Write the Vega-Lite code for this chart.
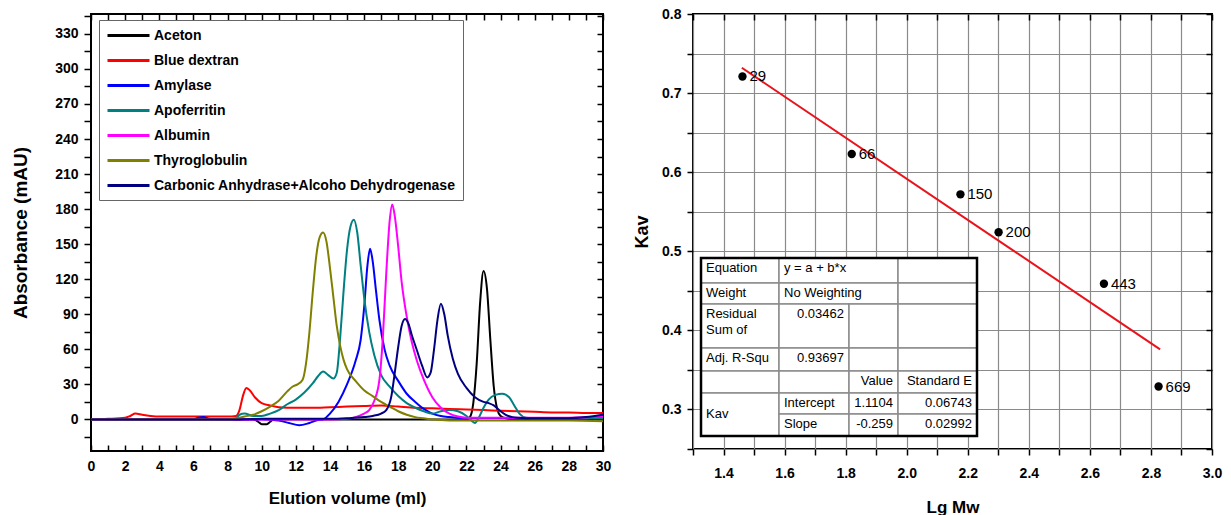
{
  "$schema": "https://vega.github.io/schema/vega-lite/v6.json",
  "background": "white",
  "padding": {"left": 10, "top": 6, "right": 5, "bottom": 5},
  "bounds": "flush",
  "spacing": 90,
  "config": {
    "font": "Liberation Sans",
    "view": {"stroke": "black", "strokeWidth": 2},
    "axis": {
      "labelFlush": false, "labelOverlap": false, "grid": false, "domain": false,
      "tickColor": "black", "tickWidth": 1.5,
      "labelFont": "Liberation Sans", "labelFontSize": 14, "labelFontWeight": "bold", "labelColor": "black",
      "titleFont": "Liberation Sans", "titleFontWeight": "bold", "titleColor": "black"
    },
    "text": {"font": "Liberation Sans", "color": "black"}
  },
  "datasets": {
    "curves": [
      {"s":"Aceton","v":0,"a":0},{"s":"Aceton","v":2,"a":0},{"s":"Aceton","v":4,"a":0},{"s":"Aceton","v":6,"a":0},{"s":"Aceton","v":8,"a":0},{"s":"Aceton","v":9.5,"a":0},{"s":"Aceton","v":9.8,"a":-2},{"s":"Aceton","v":10.0,"a":-4},{"s":"Aceton","v":10.3,"a":-4},{"s":"Aceton","v":10.5,"a":-2},{"s":"Aceton","v":10.7,"a":0},{"s":"Aceton","v":12,"a":0},{"s":"Aceton","v":14,"a":0},{"s":"Aceton","v":16,"a":0},{"s":"Aceton","v":18,"a":0},{"s":"Aceton","v":20,"a":0},{"s":"Aceton","v":22,"a":0},{"s":"Aceton","v":22.2,"a":2},{"s":"Aceton","v":22.4,"a":14},{"s":"Aceton","v":22.6,"a":48},{"s":"Aceton","v":22.8,"a":100},{"s":"Aceton","v":23.0,"a":127},{"s":"Aceton","v":23.2,"a":112},{"s":"Aceton","v":23.4,"a":68},{"s":"Aceton","v":23.6,"a":28},{"s":"Aceton","v":23.8,"a":9},{"s":"Aceton","v":24.0,"a":3},{"s":"Aceton","v":24.3,"a":1},{"s":"Aceton","v":25,"a":0},{"s":"Aceton","v":26,"a":0},{"s":"Aceton","v":28,"a":0},{"s":"Aceton","v":30,"a":0},

      {"s":"Blue dextran","v":0,"a":0},{"s":"Blue dextran","v":1,"a":0.5},{"s":"Blue dextran","v":2,"a":1.5},{"s":"Blue dextran","v":2.3,"a":3},{"s":"Blue dextran","v":2.6,"a":5},{"s":"Blue dextran","v":3.0,"a":4},{"s":"Blue dextran","v":3.5,"a":3},{"s":"Blue dextran","v":4,"a":2.5},{"s":"Blue dextran","v":6,"a":2.5},{"s":"Blue dextran","v":8,"a":2.5},{"s":"Blue dextran","v":8.5,"a":3},{"s":"Blue dextran","v":8.7,"a":8},{"s":"Blue dextran","v":8.9,"a":20},{"s":"Blue dextran","v":9.1,"a":27},{"s":"Blue dextran","v":9.3,"a":25},{"s":"Blue dextran","v":9.6,"a":19},{"s":"Blue dextran","v":10,"a":14},{"s":"Blue dextran","v":10.5,"a":12},{"s":"Blue dextran","v":11,"a":10.5},{"s":"Blue dextran","v":12,"a":10},{"s":"Blue dextran","v":13,"a":10},{"s":"Blue dextran","v":14,"a":10.5},{"s":"Blue dextran","v":15,"a":11},{"s":"Blue dextran","v":16,"a":11.5},{"s":"Blue dextran","v":17,"a":12},{"s":"Blue dextran","v":18,"a":11},{"s":"Blue dextran","v":19,"a":10},{"s":"Blue dextran","v":20,"a":9.5},{"s":"Blue dextran","v":21,"a":9},{"s":"Blue dextran","v":22,"a":8.5},{"s":"Blue dextran","v":23,"a":8},{"s":"Blue dextran","v":24,"a":7.5},{"s":"Blue dextran","v":25,"a":7},{"s":"Blue dextran","v":26,"a":6.5},{"s":"Blue dextran","v":27,"a":6},{"s":"Blue dextran","v":28,"a":6},{"s":"Blue dextran","v":29,"a":5.5},{"s":"Blue dextran","v":30,"a":5.5},

      {"s":"Amylase","v":0,"a":0},{"s":"Amylase","v":6,"a":0},{"s":"Amylase","v":6.3,"a":1.5},{"s":"Amylase","v":6.6,"a":2},{"s":"Amylase","v":6.9,"a":0.5},{"s":"Amylase","v":7.5,"a":0},{"s":"Amylase","v":10,"a":0},{"s":"Amylase","v":11,"a":-1},{"s":"Amylase","v":11.6,"a":-3},{"s":"Amylase","v":12.2,"a":-5},{"s":"Amylase","v":12.8,"a":-3},{"s":"Amylase","v":13.3,"a":-0.5},{"s":"Amylase","v":13.6,"a":0},{"s":"Amylase","v":14,"a":5},{"s":"Amylase","v":14.5,"a":15},{"s":"Amylase","v":15,"a":30},{"s":"Amylase","v":15.5,"a":50},{"s":"Amylase","v":15.8,"a":68},{"s":"Amylase","v":16.0,"a":95},{"s":"Amylase","v":16.2,"a":132},{"s":"Amylase","v":16.35,"a":146},{"s":"Amylase","v":16.5,"a":136},{"s":"Amylase","v":16.7,"a":110},{"s":"Amylase","v":16.9,"a":85},{"s":"Amylase","v":17.2,"a":60},{"s":"Amylase","v":17.5,"a":46},{"s":"Amylase","v":18,"a":33},{"s":"Amylase","v":18.5,"a":22},{"s":"Amylase","v":19,"a":15},{"s":"Amylase","v":19.5,"a":9},{"s":"Amylase","v":20,"a":5},{"s":"Amylase","v":20.5,"a":3},{"s":"Amylase","v":21,"a":2},{"s":"Amylase","v":22,"a":1},{"s":"Amylase","v":24,"a":1},{"s":"Amylase","v":26,"a":1},{"s":"Amylase","v":28,"a":0.5},{"s":"Amylase","v":30,"a":1},

      {"s":"Apoferritin","v":0,"a":0},{"s":"Apoferritin","v":8,"a":0},{"s":"Apoferritin","v":8.5,"a":1},{"s":"Apoferritin","v":8.7,"a":4},{"s":"Apoferritin","v":9,"a":5},{"s":"Apoferritin","v":9.5,"a":3},{"s":"Apoferritin","v":10,"a":3},{"s":"Apoferritin","v":10.5,"a":5},{"s":"Apoferritin","v":11,"a":8},{"s":"Apoferritin","v":11.5,"a":13},{"s":"Apoferritin","v":12,"a":17},{"s":"Apoferritin","v":12.5,"a":23},{"s":"Apoferritin","v":13,"a":31},{"s":"Apoferritin","v":13.3,"a":37},{"s":"Apoferritin","v":13.6,"a":41},{"s":"Apoferritin","v":13.9,"a":38},{"s":"Apoferritin","v":14.2,"a":35},{"s":"Apoferritin","v":14.4,"a":40},{"s":"Apoferritin","v":14.6,"a":70},{"s":"Apoferritin","v":14.8,"a":110},{"s":"Apoferritin","v":15.0,"a":145},{"s":"Apoferritin","v":15.2,"a":165},{"s":"Apoferritin","v":15.4,"a":171},{"s":"Apoferritin","v":15.6,"a":160},{"s":"Apoferritin","v":15.8,"a":132},{"s":"Apoferritin","v":16.0,"a":105},{"s":"Apoferritin","v":16.3,"a":75},{"s":"Apoferritin","v":16.6,"a":55},{"s":"Apoferritin","v":17.0,"a":38},{"s":"Apoferritin","v":17.5,"a":28},{"s":"Apoferritin","v":18,"a":20},{"s":"Apoferritin","v":18.5,"a":14},{"s":"Apoferritin","v":19,"a":10},{"s":"Apoferritin","v":19.5,"a":7},{"s":"Apoferritin","v":20,"a":5},{"s":"Apoferritin","v":20.5,"a":7},{"s":"Apoferritin","v":21,"a":8},{"s":"Apoferritin","v":21.5,"a":7},{"s":"Apoferritin","v":22,"a":3},{"s":"Apoferritin","v":22.3,"a":-1},{"s":"Apoferritin","v":22.5,"a":-3},{"s":"Apoferritin","v":22.7,"a":1},{"s":"Apoferritin","v":23,"a":10},{"s":"Apoferritin","v":23.3,"a":17},{"s":"Apoferritin","v":23.7,"a":21},{"s":"Apoferritin","v":24.1,"a":22},{"s":"Apoferritin","v":24.5,"a":19},{"s":"Apoferritin","v":24.8,"a":12},{"s":"Apoferritin","v":25.1,"a":5},{"s":"Apoferritin","v":25.5,"a":1.5},{"s":"Apoferritin","v":26,"a":1},{"s":"Apoferritin","v":28,"a":1},{"s":"Apoferritin","v":30,"a":1},

      {"s":"Albumin","v":0,"a":0},{"s":"Albumin","v":10,"a":0},{"s":"Albumin","v":14,"a":0},{"s":"Albumin","v":15,"a":0.5},{"s":"Albumin","v":15.5,"a":2},{"s":"Albumin","v":16,"a":5},{"s":"Albumin","v":16.3,"a":8},{"s":"Albumin","v":16.6,"a":16},{"s":"Albumin","v":16.9,"a":34},{"s":"Albumin","v":17.1,"a":70},{"s":"Albumin","v":17.3,"a":125},{"s":"Albumin","v":17.5,"a":170},{"s":"Albumin","v":17.65,"a":184},{"s":"Albumin","v":17.8,"a":174},{"s":"Albumin","v":18.0,"a":148},{"s":"Albumin","v":18.2,"a":118},{"s":"Albumin","v":18.5,"a":88},{"s":"Albumin","v":18.8,"a":66},{"s":"Albumin","v":19.1,"a":50},{"s":"Albumin","v":19.5,"a":34},{"s":"Albumin","v":20,"a":19},{"s":"Albumin","v":20.5,"a":10},{"s":"Albumin","v":21,"a":5},{"s":"Albumin","v":21.5,"a":2.5},{"s":"Albumin","v":22,"a":1.5},{"s":"Albumin","v":24,"a":1.5},{"s":"Albumin","v":26,"a":1.5},{"s":"Albumin","v":28,"a":1.5},{"s":"Albumin","v":30,"a":2.5},

      {"s":"Thyroglobulin","v":0,"a":0},{"s":"Thyroglobulin","v":8,"a":0},{"s":"Thyroglobulin","v":8.6,"a":1},{"s":"Thyroglobulin","v":9,"a":2.5},{"s":"Thyroglobulin","v":9.5,"a":4},{"s":"Thyroglobulin","v":10,"a":7},{"s":"Thyroglobulin","v":10.5,"a":11},{"s":"Thyroglobulin","v":11,"a":16},{"s":"Thyroglobulin","v":11.5,"a":24},{"s":"Thyroglobulin","v":11.8,"a":28},{"s":"Thyroglobulin","v":12.1,"a":30},{"s":"Thyroglobulin","v":12.4,"a":34},{"s":"Thyroglobulin","v":12.6,"a":48},{"s":"Thyroglobulin","v":12.8,"a":75},{"s":"Thyroglobulin","v":13.0,"a":110},{"s":"Thyroglobulin","v":13.2,"a":140},{"s":"Thyroglobulin","v":13.4,"a":156},{"s":"Thyroglobulin","v":13.6,"a":160},{"s":"Thyroglobulin","v":13.8,"a":152},{"s":"Thyroglobulin","v":14.0,"a":130},{"s":"Thyroglobulin","v":14.2,"a":105},{"s":"Thyroglobulin","v":14.4,"a":80},{"s":"Thyroglobulin","v":14.6,"a":63},{"s":"Thyroglobulin","v":14.8,"a":51},{"s":"Thyroglobulin","v":15.0,"a":43},{"s":"Thyroglobulin","v":15.5,"a":33},{"s":"Thyroglobulin","v":16,"a":25},{"s":"Thyroglobulin","v":16.5,"a":20},{"s":"Thyroglobulin","v":17,"a":15},{"s":"Thyroglobulin","v":17.5,"a":11},{"s":"Thyroglobulin","v":18,"a":7},{"s":"Thyroglobulin","v":18.5,"a":4},{"s":"Thyroglobulin","v":19,"a":2},{"s":"Thyroglobulin","v":19.5,"a":1},{"s":"Thyroglobulin","v":20,"a":0},{"s":"Thyroglobulin","v":22,"a":-1},{"s":"Thyroglobulin","v":25,"a":-1},{"s":"Thyroglobulin","v":28,"a":-1},{"s":"Thyroglobulin","v":30,"a":-1.5},

      {"s":"Carbonic Anhydrase+Alcoho Dehydrogenase","v":0,"a":0},{"s":"Carbonic Anhydrase+Alcoho Dehydrogenase","v":8,"a":0},{"s":"Carbonic Anhydrase+Alcoho Dehydrogenase","v":10,"a":0.5},{"s":"Carbonic Anhydrase+Alcoho Dehydrogenase","v":12,"a":0.5},{"s":"Carbonic Anhydrase+Alcoho Dehydrogenase","v":14,"a":0.5},{"s":"Carbonic Anhydrase+Alcoho Dehydrogenase","v":15,"a":1},{"s":"Carbonic Anhydrase+Alcoho Dehydrogenase","v":16,"a":2},{"s":"Carbonic Anhydrase+Alcoho Dehydrogenase","v":16.5,"a":3},{"s":"Carbonic Anhydrase+Alcoho Dehydrogenase","v":17,"a":5},{"s":"Carbonic Anhydrase+Alcoho Dehydrogenase","v":17.3,"a":8},{"s":"Carbonic Anhydrase+Alcoho Dehydrogenase","v":17.6,"a":20},{"s":"Carbonic Anhydrase+Alcoho Dehydrogenase","v":17.8,"a":40},{"s":"Carbonic Anhydrase+Alcoho Dehydrogenase","v":18.0,"a":62},{"s":"Carbonic Anhydrase+Alcoho Dehydrogenase","v":18.2,"a":80},{"s":"Carbonic Anhydrase+Alcoho Dehydrogenase","v":18.4,"a":86},{"s":"Carbonic Anhydrase+Alcoho Dehydrogenase","v":18.6,"a":82},{"s":"Carbonic Anhydrase+Alcoho Dehydrogenase","v":18.8,"a":72},{"s":"Carbonic Anhydrase+Alcoho Dehydrogenase","v":19.1,"a":59},{"s":"Carbonic Anhydrase+Alcoho Dehydrogenase","v":19.4,"a":46},{"s":"Carbonic Anhydrase+Alcoho Dehydrogenase","v":19.7,"a":36},{"s":"Carbonic Anhydrase+Alcoho Dehydrogenase","v":19.9,"a":40},{"s":"Carbonic Anhydrase+Alcoho Dehydrogenase","v":20.1,"a":60},{"s":"Carbonic Anhydrase+Alcoho Dehydrogenase","v":20.3,"a":85},{"s":"Carbonic Anhydrase+Alcoho Dehydrogenase","v":20.5,"a":99},{"s":"Carbonic Anhydrase+Alcoho Dehydrogenase","v":20.7,"a":90},{"s":"Carbonic Anhydrase+Alcoho Dehydrogenase","v":20.9,"a":72},{"s":"Carbonic Anhydrase+Alcoho Dehydrogenase","v":21.2,"a":52},{"s":"Carbonic Anhydrase+Alcoho Dehydrogenase","v":21.5,"a":39},{"s":"Carbonic Anhydrase+Alcoho Dehydrogenase","v":22,"a":27},{"s":"Carbonic Anhydrase+Alcoho Dehydrogenase","v":22.5,"a":19},{"s":"Carbonic Anhydrase+Alcoho Dehydrogenase","v":23,"a":15},{"s":"Carbonic Anhydrase+Alcoho Dehydrogenase","v":23.3,"a":14},{"s":"Carbonic Anhydrase+Alcoho Dehydrogenase","v":23.6,"a":12},{"s":"Carbonic Anhydrase+Alcoho Dehydrogenase","v":24,"a":7},{"s":"Carbonic Anhydrase+Alcoho Dehydrogenase","v":24.3,"a":4},{"s":"Carbonic Anhydrase+Alcoho Dehydrogenase","v":24.7,"a":2},{"s":"Carbonic Anhydrase+Alcoho Dehydrogenase","v":25,"a":1.5},{"s":"Carbonic Anhydrase+Alcoho Dehydrogenase","v":26,"a":1},{"s":"Carbonic Anhydrase+Alcoho Dehydrogenase","v":27,"a":1},{"s":"Carbonic Anhydrase+Alcoho Dehydrogenase","v":28,"a":1},{"s":"Carbonic Anhydrase+Alcoho Dehydrogenase","v":29,"a":2},{"s":"Carbonic Anhydrase+Alcoho Dehydrogenase","v":30,"a":4}
    ],
    "points": [
      {"mw":"29","lg":1.462,"kav":0.721},
      {"mw":"66","lg":1.820,"kav":0.623},
      {"mw":"150","lg":2.176,"kav":0.572},
      {"mw":"200","lg":2.301,"kav":0.524},
      {"mw":"443","lg":2.646,"kav":0.459},
      {"mw":"669","lg":2.825,"kav":0.329}
    ],
    "fit": [
      {"lg":1.46,"kav":0.732},
      {"lg":2.83,"kav":0.376}
    ],
    "cells": [
      {"r0":0,"r1":1,"c0":0,"c1":1,"t":"Equation","kind":"label"},
      {"r0":0,"r1":1,"c0":1,"c1":3,"t":"y = a + b*x","kind":"label"},
      {"r0":0,"r1":1,"c0":3,"c1":4,"t":"","kind":"label"},
      {"r0":1,"r1":2,"c0":0,"c1":1,"t":"Weight","kind":"label"},
      {"r0":1,"r1":2,"c0":1,"c1":3,"t":"No Weighting","kind":"label"},
      {"r0":1,"r1":2,"c0":3,"c1":4,"t":"","kind":"label"},
      {"r0":2,"r1":3,"c0":0,"c1":1,"t":"Residual\nSum of","kind":"label"},
      {"r0":2,"r1":3,"c0":1,"c1":2,"t":"0.03462","kind":"number"},
      {"r0":2,"r1":3,"c0":2,"c1":3,"t":"","kind":"label"},
      {"r0":2,"r1":3,"c0":3,"c1":4,"t":"","kind":"label"},
      {"r0":3,"r1":4,"c0":0,"c1":1,"t":"Adj. R-Squ","kind":"label"},
      {"r0":3,"r1":4,"c0":1,"c1":2,"t":"0.93697","kind":"number"},
      {"r0":3,"r1":4,"c0":2,"c1":3,"t":"","kind":"label"},
      {"r0":3,"r1":4,"c0":3,"c1":4,"t":"","kind":"label"},
      {"r0":4,"r1":5,"c0":0,"c1":1,"t":"","kind":"label"},
      {"r0":4,"r1":5,"c0":1,"c1":2,"t":"","kind":"label"},
      {"r0":4,"r1":5,"c0":2,"c1":3,"t":"Value","kind":"header"},
      {"r0":4,"r1":5,"c0":3,"c1":4,"t":"Standard E","kind":"header"},
      {"r0":5,"r1":7,"c0":0,"c1":1,"t":"Kav","kind":"label"},
      {"r0":5,"r1":6,"c0":1,"c1":2,"t":"Intercept","kind":"label"},
      {"r0":5,"r1":6,"c0":2,"c1":3,"t":"1.1104","kind":"number"},
      {"r0":5,"r1":6,"c0":3,"c1":4,"t":"0.06743","kind":"number"},
      {"r0":6,"r1":7,"c0":1,"c1":2,"t":"Slope","kind":"label"},
      {"r0":6,"r1":7,"c0":2,"c1":3,"t":"-0.259","kind":"number"},
      {"r0":6,"r1":7,"c0":3,"c1":4,"t":"0.02992","kind":"number"}
    ],
    "tableframe": [{"r0":0,"r1":7,"c0":0,"c1":4}]
  },
  "hconcat": [
    {
      "width": 512,
      "height": 437,
      "layer": [
        {
          "data": {"name": "curves"},
          "mark": {"type": "line", "strokeWidth": 2, "interpolate": "monotone"},
          "encoding": {
            "x": {"field": "v", "type": "quantitative",
              "scale": {"domain": [0, 30], "nice": false, "zero": false},
              "axis": {"title": "Elution volume (ml)", "titleFontSize": 17, "titlePadding": 17,
                "values": [0,1,2,3,4,5,6,7,8,9,10,11,12,13,14,15,16,17,18,19,20,21,22,23,24,25,26,27,28,29,30],
                "labelExpr": "datum.value % 2 === 0 ? datum.label : ''",
                "tickSize": -6, "labelPadding": 14}},
            "y": {"field": "a", "type": "quantitative",
              "scale": {"domain": [-27, 347], "nice": false, "zero": false},
              "axis": {"title": "Absorbance (mAU)", "titleFontSize": 19, "titlePadding": 24,
                "values": [-15,0,15,30,45,60,75,90,105,120,135,150,165,180,195,210,225,240,255,270,285,300,315,330,345],
                "labelExpr": "datum.value % 30 === 0 ? datum.label : ''",
                "tickSize": 7, "labelPadding": 6}},
            "color": {"field": "s", "type": "nominal",
              "sort": ["Aceton","Blue dextran","Amylase","Apoferritin","Albumin","Thyroglobulin","Carbonic Anhydrase+Alcoho Dehydrogenase"],
              "scale": {"domain": ["Aceton","Blue dextran","Amylase","Apoferritin","Albumin","Thyroglobulin","Carbonic Anhydrase+Alcoho Dehydrogenase"],
                "range": ["#000000","#ff0000","#0000ff","#008080","#ff00ff","#808000","#000080"]},
              "legend": {"title": null, "orient": "none", "legendX": 8, "legendY": 6,
                "symbolType": "M-3,0H3", "symbolSize": 196, "symbolStrokeWidth": 3, "symbolOffset": 14,
                "labelFont": "Liberation Sans", "labelFontSize": 14, "labelFontWeight": "bold", "labelColor": "black",
                "labelLimit": 500, "labelOffset": 17, "strokeColor": "#666666", "fillColor": "white",
                "padding": 7, "rowPadding": 9}}
          }
        },
        {
          "data": {"values": [{"k": 1}]},
          "mark": {"type": "point", "opacity": 0},
          "encoding": {
            "x": {"datum": 0, "type": "quantitative",
              "scale": {"domain": [0, 30], "nice": false, "zero": false},
              "axis": {"orient": "top", "labels": false, "title": null, "tickSize": -6,
                "values": [0,1,2,3,4,5,6,7,8,9,10,11,12,13,14,15,16,17,18,19,20,21,22,23,24,25,26,27,28,29,30]}},
            "y": {"datum": 0, "type": "quantitative",
              "scale": {"domain": [-27, 347], "nice": false, "zero": false},
              "axis": {"orient": "right", "labels": false, "title": null, "tickSize": -6,
                "values": [-15,0,15,30,45,60,75,90,105,120,135,150,165,180,195,210,225,240,255,270,285,300,315,330,345]}}
          }
        }
      ],
      "resolve": {"axis": {"x": "independent", "y": "independent"}}
    },
    {
      "width": 519,
      "height": 435,
      "layer": [
        {
          "layer": [
            {
              "data": {"name": "points"},
              "mark": {"type": "circle", "color": "black", "size": 70, "opacity": 1},
              "encoding": {
                "x": {"field": "lg", "type": "quantitative",
                  "scale": {"domain": [1.3, 3.0], "nice": false, "zero": false},
                  "axis": {"title": "Lg Mw", "titleFontSize": 17, "titlePadding": 19,
                    "values": [1.3,1.4,1.5,1.6,1.7,1.8,1.9,2.0,2.1,2.2,2.3,2.4,2.5,2.6,2.7,2.8,2.9,3.0],
                    "format": ".1f",
                    "labelExpr": "round(datum.value * 10) % 2 === 0 ? datum.label : ''",
                    "grid": true, "gridColor": "#8a8a8a", "gridWidth": 1.2,
                    "tickSize": 6, "labelPadding": 11}},
                "y": {"field": "kav", "type": "quantitative",
                  "scale": {"domain": [0.25, 0.8], "nice": false, "zero": false},
                  "axis": {"title": "Kav", "titleFontSize": 18, "titlePadding": 10,
                    "values": [0.25,0.3,0.35,0.4,0.45,0.5,0.55,0.6,0.65,0.7,0.75,0.8],
                    "format": ".1f",
                    "labelExpr": "round(datum.value * 100) % 10 === 0 ? datum.label : ''",
                    "grid": true, "gridColor": "#8a8a8a", "gridWidth": 1.2,
                    "tickSize": 6, "labelPadding": 6}}
              }
            },
            {
              "data": {"values": [{"k": 1}]},
              "mark": {"type": "point", "opacity": 0},
              "encoding": {
                "x": {"datum": 2, "type": "quantitative",
                  "scale": {"domain": [1.3, 3.0], "nice": false, "zero": false},
                  "axis": {"orient": "top", "labels": false, "title": null, "tickSize": -6,
                    "values": [1.3,1.4,1.5,1.6,1.7,1.8,1.9,2.0,2.1,2.2,2.3,2.4,2.5,2.6,2.7,2.8,2.9,3.0]}},
                "y": {"datum": 0.5, "type": "quantitative",
                  "scale": {"domain": [0.25, 0.8], "nice": false, "zero": false},
                  "axis": {"orient": "right", "labels": false, "title": null, "tickSize": -6,
                    "values": [0.25,0.3,0.35,0.4,0.45,0.5,0.55,0.6,0.65,0.7,0.75,0.8]}}
              }
            },
            {
              "data": {"name": "fit"},
              "mark": {"type": "line", "color": "#e8131b", "strokeWidth": 2},
              "encoding": {
                "x": {"field": "lg", "type": "quantitative", "axis": null},
                "y": {"field": "kav", "type": "quantitative", "axis": null}
              }
            },
            {
              "data": {"name": "points"},
              "mark": {"type": "text", "align": "left", "baseline": "middle", "dx": 7, "fontSize": 15},
              "encoding": {
                "x": {"field": "lg", "type": "quantitative", "axis": null},
                "y": {"field": "kav", "type": "quantitative", "axis": null},
                "text": {"field": "mw"}
              }
            }
          ],
          "resolve": {"axis": {"x": "independent", "y": "independent"}}
        },
        {
          "layer": [
            {
              "data": {"name": "cells"},
              "mark": {"type": "rect", "color": "white", "stroke": "#8c8c8c", "strokeWidth": 1.5},
              "encoding": {
                "x": {"field": "c0", "type": "quantitative", "axis": null,
                  "scale": {"domain": [0,1,2,3,4], "range": [8,86,156,205,284], "nice": false, "zero": false}},
                "x2": {"field": "c1"},
                "y": {"field": "r0", "type": "quantitative", "axis": null,
                  "scale": {"domain": [0,1,2,3,4,5,6,7], "range": [244,269,290,334,357,379,400,422], "nice": false, "zero": false}},
                "y2": {"field": "r1"}
              }
            },
            {
              "data": {"name": "tableframe"},
              "mark": {"type": "rect", "filled": false, "color": "black", "strokeWidth": 2.5},
              "encoding": {
                "x": {"field": "c0", "type": "quantitative", "axis": null},
                "x2": {"field": "c1"},
                "y": {"field": "r0", "type": "quantitative", "axis": null},
                "y2": {"field": "r1"}
              }
            },
            {
              "data": {"name": "cells"},
              "transform": [{"filter": "datum.kind === 'label' && datum.r1 - datum.r0 === 1"}],
              "mark": {"type": "text", "align": "left", "baseline": "top", "dx": 5, "dy": 4, "fontSize": 13, "lineBreak": "\n", "lineHeight": 16},
              "encoding": {
                "x": {"field": "c0", "type": "quantitative", "axis": null},
                "y": {"field": "r0", "type": "quantitative", "axis": null},
                "text": {"field": "t"}
              }
            },
            {
              "data": {"name": "cells"},
              "transform": [{"filter": "datum.kind !== 'label'"}],
              "mark": {"type": "text", "align": "right", "baseline": "top", "dx": -5, "dy": 4, "fontSize": 13},
              "encoding": {
                "x": {"field": "c1", "type": "quantitative", "axis": null},
                "y": {"field": "r0", "type": "quantitative", "axis": null},
                "text": {"field": "t"}
              }
            },
            {
              "data": {"name": "cells"},
              "transform": [{"filter": "datum.r1 - datum.r0 === 2"}],
              "mark": {"type": "text", "align": "left", "baseline": "middle", "dx": 5, "dy": 21, "fontSize": 13},
              "encoding": {
                "x": {"field": "c0", "type": "quantitative", "axis": null},
                "y": {"field": "r0", "type": "quantitative", "axis": null},
                "text": {"field": "t"}
              }
            }
          ]
        }
      ],
      "resolve": {"scale": {"x": "independent", "y": "independent"}}
    }
  ]
}
